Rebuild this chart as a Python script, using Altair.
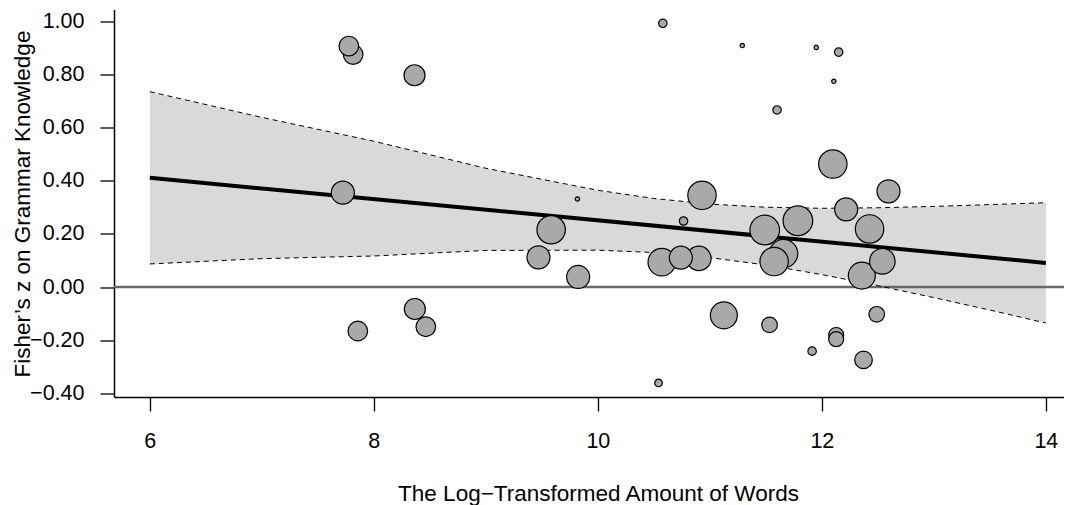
import altair as alt
import pandas as pd

# ---- data ----
log_words = [7.815, 7.777, 8.363, 7.723, 8.366, 8.464, 7.857,
             9.818, 9.583, 9.47, 9.824, 10.765, 10.571, 10.741, 10.902, 10.542, 10.93, 10.58, 11.29,
             11.95, 12.15, 12.107, 11.60, 12.098, 12.595, 12.217, 11.786, 12.426, 11.49, 11.658,
             11.574, 12.54, 12.357, 11.125, 11.533, 12.49, 12.128, 12.128, 11.913, 12.372]
fisher_z = [0.877, 0.909, 0.799, 0.356, -0.083, -0.150, -0.166,
            0.332, 0.216, 0.112, 0.038, 0.249, 0.094, 0.111, 0.108, -0.362, 0.346, 0.995, 0.911,
            0.904, 0.886, 0.776, 0.668, 0.464, 0.361, 0.293, 0.250, 0.219, 0.215, 0.126,
            0.096, 0.097, 0.043, -0.107, -0.143, -0.103, -0.181, -0.197, -0.242, -0.275]
weight = [43.9, 43.9, 50.3, 60.4, 50.3, 43.9, 43.9,
          2.2, 92.1, 60.4, 60.4, 8.1, 87.0, 60.4, 68.0, 6.6, 92.1, 8.1, 2.2,
          2.2, 8.1, 2.2, 8.1, 92.1, 60.4, 60.4, 100.0, 92.1, 100.0, 92.1,
          92.1, 74.8, 83.2, 83.2, 27.8, 27.8, 25.7, 25.7, 8.1, 35.4]

line_x = [6, 14]
line_y = [0.412, 0.091]

band_x = [6, 7, 8, 9, 10, 10.5, 11, 11.5, 12, 12.5, 13, 13.5, 14]
band_upper = [0.737, 0.640, 0.550, 0.448, 0.365, 0.334, 0.313, 0.301, 0.297, 0.299, 0.304, 0.311, 0.318]
band_lower = [0.087, 0.107, 0.117, 0.138, 0.139, 0.130, 0.111, 0.083, 0.047, 0.005, -0.040, -0.087, -0.136]

x_ticks = [6, 8, 10, 12, 14]
y_ticks = [-0.4, -0.2, 0.0, 0.2, 0.4, 0.6, 0.8, 1.0]
zero_ref = [0.0]

pts = pd.DataFrame({"lw": log_words, "z": fisher_z, "w": weight})
pts = pts.sort_values("w", ascending=False, kind="stable").reset_index(drop=True)
band = pd.DataFrame({"lw": band_x, "hi": band_upper, "lo": band_lower})
reg = pd.DataFrame({"lw": line_x, "z": line_y})
zero_df = pd.DataFrame({"z": zero_ref})

FONT = "Liberation Sans"
FS = 21.5
TFS = 22.5
XT = "The Log\u2212Transformed Amount of Words"
YT = "Fisher\u2019s z on Grammar Knowledge"

xscale = alt.Scale(domain=[5.68, 14.162], nice=False, zero=False)
yscale = alt.Scale(domain=[-0.415, 1.047], nice=False, zero=False)

xaxis = alt.Axis(values=x_ticks, format="d", title=XT, tickSize=14, labelPadding=36,
                 labelBaseline="alphabetic", titleX=484, titleY=103, titleBaseline="alphabetic",
                 titleAlign="center", titleAnchor="start")
yaxis = alt.Axis(values=y_ticks, format=".2f", title=YT, tickSize=14, labelPadding=16,
                 labelAlign="right", labelBaseline="middle", titleX=-85, titleY=194,
                 titleAngle=270, titleBaseline="alphabetic", titleAlign="center", titleAnchor="start")


def X(field):
    return alt.X(field, type="quantitative", scale=xscale, axis=xaxis, title=XT)


def Y(field):
    return alt.Y(field, type="quantitative", scale=yscale, axis=yaxis, title=YT)


band_layer = alt.Chart(band).mark_area(color="#d9d9d9", opacity=1).encode(
    x=X("lw"), y=Y("lo"), y2="hi")
zero_layer = alt.Chart(zero_df).mark_rule(color="#686868", strokeWidth=2.6, opacity=1).encode(
    y=Y("z"))
upper_layer = alt.Chart(band).mark_line(color="black", strokeWidth=1, strokeDash=[5, 4]).encode(
    x=X("lw"), y=Y("hi"))
lower_layer = alt.Chart(band).mark_line(color="black", strokeWidth=1, strokeDash=[5, 4]).encode(
    x=X("lw"), y=Y("lo"))
reg_layer = alt.Chart(reg).mark_line(color="black", strokeWidth=4).encode(
    x=X("lw"), y=Y("z"))
pt_layer = alt.Chart(pts).mark_point(filled=True, fill="#a9a9a9", stroke="black",
                                     strokeWidth=1.2, opacity=1, fillOpacity=1,
                                     strokeOpacity=1, shape="circle").encode(
    x=X("lw"), y=Y("z"),
    size=alt.Size("w:Q", scale=alt.Scale(domain=[0, 100], range=[0, 876], zero=True), legend=None))

chart = alt.layer(band_layer, zero_layer, upper_layer, lower_layer, reg_layer, pt_layer).properties(
    width=950, height=387.5,
    autosize=alt.AutoSizeParams(type="none"),
    padding={"left": 106, "top": 1.5, "right": 0, "bottom": 108},
).configure_view(stroke=None).configure_axis(
    grid=False, domainColor="black", domainWidth=1.5, tickColor="black", tickWidth=1.3,
    labelFont=FONT, labelFontSize=FS, labelColor="black", titleFont=FONT, titleFontSize=TFS,
    titleFontWeight="normal", titleColor="black", labelOverlap=False, labelFlush=False,
)

chart.save("out.html", embed_options={"renderer": "svg", "actions": False})
